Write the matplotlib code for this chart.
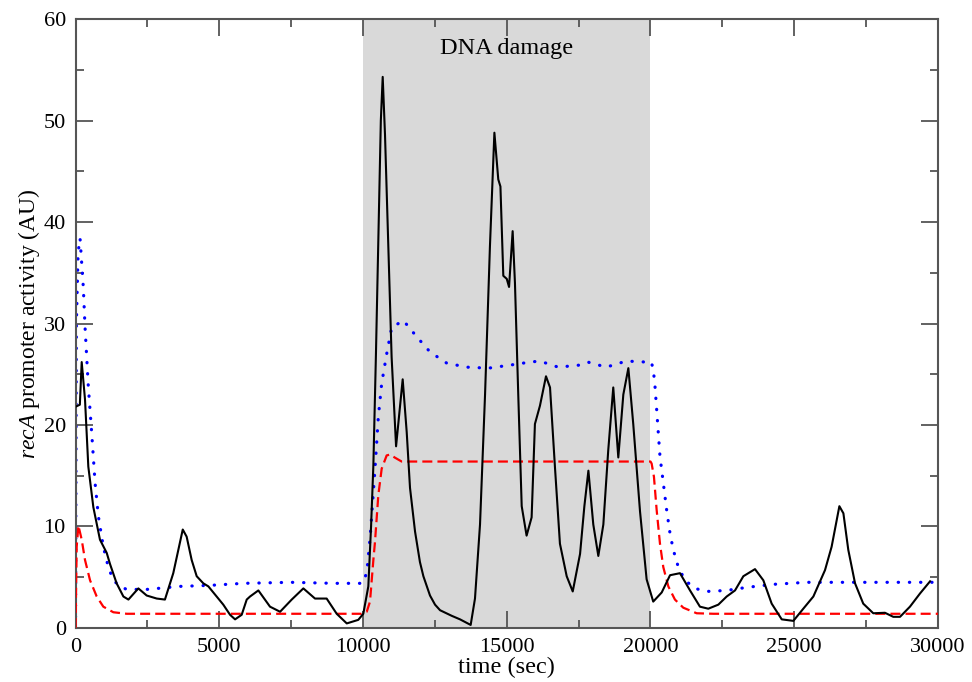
import numpy as np
import matplotlib
matplotlib.use("Agg")
import matplotlib.pyplot as plt
from matplotlib.ticker import MultipleLocator

plt.rcParams['font.family'] = ['Liberation Serif', 'DejaVu Serif']
plt.rcParams['mathtext.fontset'] = 'custom'
plt.rcParams['mathtext.rm'] = 'Liberation Serif'
plt.rcParams['mathtext.it'] = 'Liberation Serif:italic'

# single-cell recA promoter activity (black)
t_cell = [0, 150, 215, 330, 445, 620, 850, 1085, 1200, 1430, 1665, 1840, 2185, 2475,
          2825, 3110, 3400, 3575, 3730, 3865, 4040, 4215, 4445, 4620, 4910, 5140, 5375,
          5550, 5780, 5955, 6070, 6360, 6765, 7115, 7520, 7925, 8330, 8735, 9085, 9435,
          9835, 10010, 10185, 10280, 10360, 10450, 10530, 10620, 10685, 10765, 10880,
          10995, 11150, 11380, 11520, 11635, 11810, 11980, 12100, 12330, 12505, 12680,
          13085, 13375, 13745, 13895, 14070, 14245, 14415, 14570, 14705, 14780, 14880,
          15000, 15080, 15205, 15285, 15400, 15520, 15690, 15865, 15980, 16155, 16365,
          16505, 16680, 16850, 17085, 17295, 17550, 17700, 17840, 18010, 18185, 18360,
          18530, 18705, 18880, 19055, 19230, 19400, 19635, 19865, 20095, 20390, 20680,
          21025, 21375, 21720, 22010, 22360, 22650, 22940, 23230, 23635, 23925, 24215,
          24565, 24970, 25315, 25665, 26070, 26300, 26570, 26710, 26880, 27115, 27400,
          27750, 28155, 28445, 28680, 29025, 29375, 29725]
a_cell = [21.8, 22.0, 26.2, 22.5, 15.9, 11.9, 8.7, 7.4, 6.3, 4.4, 3.1, 2.8, 3.9, 3.2,
          2.9, 2.8, 5.4, 7.7, 9.7, 9.0, 6.7, 5.1, 4.4, 4.1, 3.1, 2.3, 1.3,
          0.85, 1.3, 2.8, 3.1, 3.7, 2.1, 1.6, 2.8, 3.9, 2.9, 2.9, 1.4, 0.45,
          0.8, 1.4, 4.1, 10.0, 16.0, 27.0, 38.0, 50.0, 54.3, 48.6, 37.6,
          26.7, 17.9, 24.5, 19.3, 13.8, 9.5, 6.5, 5.1, 3.2, 2.3, 1.75,
          1.2, 0.85, 0.3, 2.9, 10.2, 23.0, 37.6, 48.8, 44.2, 43.5, 34.7,
          34.4, 33.6, 39.1, 34.0, 23.0, 12.0, 9.1, 10.9, 20.1, 21.9, 24.8,
          23.7, 15.7, 8.3, 5.1, 3.6, 7.3, 12.0, 15.5, 10.2, 7.1, 10.2,
          17.5, 23.7, 16.8, 23.0, 25.6, 20.1, 11.5, 4.8, 2.6, 3.5, 5.2,
          5.4, 3.7, 2.1, 1.9, 2.3, 3.1, 3.7, 5.1, 5.8, 4.7, 2.4,
          0.85, 0.7, 1.9, 3.1, 5.7, 8.0, 12.0, 11.3, 7.7, 4.4, 2.4,
          1.45, 1.5, 1.1, 1.1, 2.1, 3.4, 4.6]

# model, dotted blue
t_model1 = [0, 30, 90, 157, 270, 330, 445, 563, 680, 795, 967, 1140, 1315, 1548, 1780,
            2475, 3635, 4680, 5840, 7500, 9000, 9950, 10050, 10150, 10250, 10350, 10417,
            10533, 10650, 10823, 10997, 11403, 11867, 12330, 12910, 13605, 14360, 15113,
            15810, 16150, 16790, 17530, 17820, 18460, 19160, 19860, 20030, 20100, 20157,
            20215, 20272, 20330, 20445, 20563, 20680, 20793, 20967, 21200, 21548, 21955,
            22650, 23346, 24270, 25430, 26590, 27750, 29835]
a_model1 = [0.0, 30.0, 37.0, 38.4, 33.6, 29.7, 23.8, 19.2, 14.3, 11.0, 8.0, 6.0, 4.7, 4.1, 3.8,
            3.8, 4.1, 4.2, 4.4, 4.5, 4.4, 4.4, 4.6, 6.0, 9.0, 13.0, 15.7,
            20.8, 24.1, 27.0, 29.6, 30.3, 28.7, 27.2, 26.1, 25.7, 25.6, 25.9,
            26.2, 26.3, 25.7, 25.9, 26.2, 25.7, 26.3, 26.2, 26.2, 25.4, 23.8,
            21.5, 19.2, 16.9, 14.3, 11.6, 9.3, 7.7, 6.0, 4.7, 3.9, 3.6,
            3.7, 4.0, 4.3, 4.5, 4.5, 4.5, 4.5]

# model, dashed red
t_model2 = [0, 40, 100, 215, 330, 505, 737, 967, 1315, 1780, 9950, 10130, 10243, 10360,
            10417, 10533, 10650, 10823, 10950, 11100, 11345, 11635, 20000, 20040, 20120,
            20215, 20330, 20445, 20620, 20850, 21140, 21606, 22195, 30000]
a_model2 = [0.0, 8.0, 10.1, 8.7, 6.7, 4.7, 3.1, 2.1, 1.55, 1.4, 1.4, 1.6, 2.6, 6.7,
            8.5, 13.1, 15.7, 17.0, 17.1, 16.8, 16.4, 16.4, 16.4, 16.2, 14.9,
            11.6, 8.3, 6.0, 4.1, 2.8, 2.0, 1.45, 1.4, 1.4]

damage_start, damage_end = 10000, 20000

fig = plt.figure(figsize=(9.72, 6.82), dpi=100)
ax = fig.add_axes([0.0777, 0.0792, 0.8873, 0.8929])

ax.axvspan(damage_start, damage_end, color='#d9d9d9', lw=0, zorder=0)
ax.text((damage_start + damage_end) / 2, 57.1, 'DNA damage', ha='center', va='center',
        fontsize=17.5)

ax.plot(t_model1, a_model1, color='#0000ff', lw=2.3, linestyle=(0, (0.1, 3.4)),
        dash_capstyle='round', zorder=2)
ax.plot(t_model2, a_model2, color='#ff0000', lw=1.6, linestyle=(0, (4.5, 2.3)), zorder=3)
ax.plot(t_cell, a_cell, color='black', lw=1.5, zorder=4)

ax.set_xlim(0, 30000)
ax.set_ylim(0, 60)
ax.xaxis.set_major_locator(MultipleLocator(5000))
ax.xaxis.set_minor_locator(MultipleLocator(2500))
ax.yaxis.set_major_locator(MultipleLocator(10))
ax.yaxis.set_minor_locator(MultipleLocator(5))
ax.tick_params(which='both', direction='in', top=True, right=True, color='#555555',
               width=1.3, labelsize=16, pad=7)
ax.tick_params(which='major', length=12)
ax.tick_params(which='minor', length=6)
for s in ax.spines.values():
    s.set_color('#555555')
    s.set_linewidth(1.5)

ax.set_xlabel('time (sec)', fontsize=17.5, labelpad=0)
ax.set_ylabel(r'$\mathit{recA}$ promoter activity (AU)', fontsize=17, labelpad=1)

fig.savefig('out.png', dpi=100)
